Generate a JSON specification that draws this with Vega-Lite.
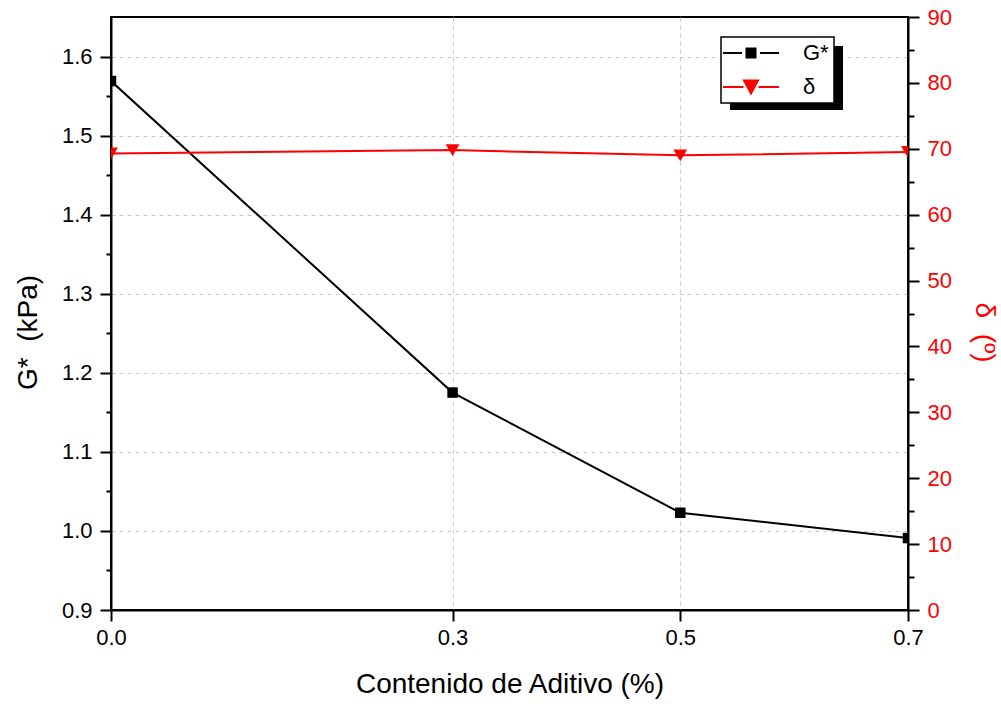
{
  "$schema": "https://vega.github.io/schema/vega-lite/v6.json",
  "width": 797,
  "height": 593,
  "autosize": {"type": "none"},
  "padding": {"left": 111, "top": 17, "right": 93, "bottom": 94},
  "background": "white",
  "data": {
    "values": [
      {"x": 0.0, "series": "G*", "value": 1.569},
      {"x": 0.3, "series": "G*", "value": 1.175},
      {"x": 0.5, "series": "G*", "value": 1.023},
      {"x": 0.7, "series": "G*", "value": 0.991},
      {"x": 0.0, "series": "δ", "value": 69.3},
      {"x": 0.3, "series": "δ", "value": 69.8},
      {"x": 0.5, "series": "δ", "value": 69.0},
      {"x": 0.7, "series": "δ", "value": 69.5}
    ]
  },
  "encoding": {
    "x": {
      "field": "x",
      "type": "quantitative",
      "scale": {"domain": [0, 0.7], "nice": false, "zero": false},
      "axis": {
        "values": [0, 0.3, 0.5, 0.7],
        "format": ".1f",
        "title": "Contenido de Aditivo (%)",
        "grid": true,
        "gridDash": [4, 4],
        "gridColor": "#c8c8c8",
        "gridWidth": 1,
        "tickSize": 11,
        "labelPadding": 6,
        "titlePadding": 22,
        "labelFlush": false,
        "labelOverlap": false
      }
    }
  },
  "layer": [
    {
      "transform": [{"filter": "datum.series === 'G*'"}],
      "encoding": {
        "y": {
          "field": "value",
          "type": "quantitative",
          "scale": {"domain": [0.9, 1.65], "nice": false, "zero": false},
          "axis": {
            "orient": "left",
            "title": "G*\u00a0 (kPa)",
            "titleX": -83,
            "titleY": 315,
            "titleBaseline": "middle",
            "values": [0.9, 0.95, 1.0, 1.05, 1.1, 1.15, 1.2, 1.25, 1.3, 1.35, 1.4, 1.45, 1.5, 1.55, 1.6],
            "labelExpr": "abs(datum.value*10 - round(datum.value*10)) < 0.01 ? format(datum.value, '.1f') : ''",
            "tickSize": {"condition": {"test": "abs(datum.value*10 - round(datum.value*10)) < 0.01", "value": 11}, "value": 5},
            "grid": true,
            "gridDash": [4, 4],
            "gridColor": "#c8c8c8",
            "gridWidth": 1,
            "gridOpacity": {"condition": {"test": "abs(datum.value*10 - round(datum.value*10)) < 0.01", "value": 1}, "value": 0},
            "labelPadding": 8,
            "labelFlush": false,
            "labelOverlap": false
          }
        },
        "color": {
          "field": "series",
          "type": "nominal",
          "scale": {"domain": ["G*", "δ"], "range": ["black", "red"]},
          "legend": {
            "orient": "none",
            "legendX": 610,
            "legendY": 20,
            "title": null,
            "zindex": 2,
            "fillColor": "white",
            "strokeColor": "black",
            "padding": 5,
            "symbolSize": 100,
            "symbolOffset": 14,
            "labelOffset": 41,
            "rowPadding": 12,
            "labelFontSize": 22,
            "labelColor": "black",
            "symbolStrokeWidth": 2,
            "encode": {
              "symbols": {
                "update": {
                  "shape": {"signal": "datum.value === 'G*' ? 'M-5.6,0H-1.8M1.8,0H5.6M-0.9,-0.9H0.9V0.9H-0.9Z' : 'M-5.6,0H-1.5M1.5,0H5.6M-1.4,-1.3L1.4,-1.3L0,1.3Z'"},
                  "fill": {"signal": "datum.value === 'G*' ? 'black' : 'red'"},
                  "stroke": {"signal": "datum.value === 'G*' ? 'black' : 'red'"},
                  "strokeDash": {"value": []},
                  "opacity": {"value": 1}
                }
              }
            }
          }
        }
      },
      "layer": [
        {"mark": {"type": "line", "strokeWidth": 2, "clip": true}},
        {"mark": {"type": "point", "shape": "square", "filled": true, "opacity": 1, "size": 110, "clip": true}}
      ]
    },
    {
      "transform": [{"filter": "datum.series === 'δ'"}],
      "encoding": {
        "y": {
          "field": "value",
          "type": "quantitative",
          "scale": {"domain": [0, 90], "nice": false, "zero": false},
          "axis": {
            "orient": "right",
            "title": "δ\u00a0 (º)",
            "titleX": 75,
            "titleY": 315,
            "titleBaseline": "middle",
            "titleColor": "red",
            "labelColor": "red",
            "values": [0, 5, 10, 15, 20, 25, 30, 35, 40, 45, 50, 55, 60, 65, 70, 75, 80, 85, 90],
            "labelExpr": "datum.value % 10 === 0 ? format(datum.value, 'd') : ''",
            "tickSize": {"condition": {"test": "datum.value % 10 === 0", "value": 11}, "value": 6},
            "grid": false,
            "labelPadding": 8,
            "labelFlush": false,
            "labelOverlap": false
          }
        },
        "color": {"field": "series", "type": "nominal"}
      },
      "layer": [
        {"mark": {"type": "line", "strokeWidth": 2, "clip": true}},
        {"mark": {"type": "point", "shape": "triangle-down", "filled": true, "opacity": 1, "size": 190, "clip": true}}
      ]
    },
    {
      "data": {"values": [{"k": 0}, {"k": 1}]},
      "mark": {"type": "point", "opacity": 0},
      "encoding": {
        "x": {"value": 0},
        "fill": {
          "field": "k",
          "type": "quantitative",
          "scale": {"range": ["black", "black"]},
          "legend": {
            "type": "gradient",
            "direction": "horizontal",
            "orient": "none",
            "legendX": 619,
            "legendY": 29,
            "title": null,
            "zindex": 1,
            "padding": 0,
            "labelExpr": "''",
            "labelOpacity": 0,
            "gradientLength": 113,
            "gradientThickness": 64,
            "gradientStrokeColor": "black",
            "gradientStrokeWidth": 0
          }
        }
      }
    }
  ],
  "resolve": {"scale": {"y": "independent"}},
  "config": {
    "font": "Liberation Sans",
    "view": {"stroke": "black", "strokeWidth": 2},
    "axis": {
      "domainColor": "black",
      "domainWidth": 2,
      "tickColor": "black",
      "tickWidth": 2,
      "labelFontSize": 22,
      "labelColor": "black",
      "labelFont": "Liberation Sans",
      "titleFont": "Liberation Sans",
      "titleFontSize": 28,
      "titleFontWeight": "normal",
      "titleColor": "black"
    },
    "legend": {"labelFont": "Liberation Sans", "strokeWidth": 1.5}
  }
}
